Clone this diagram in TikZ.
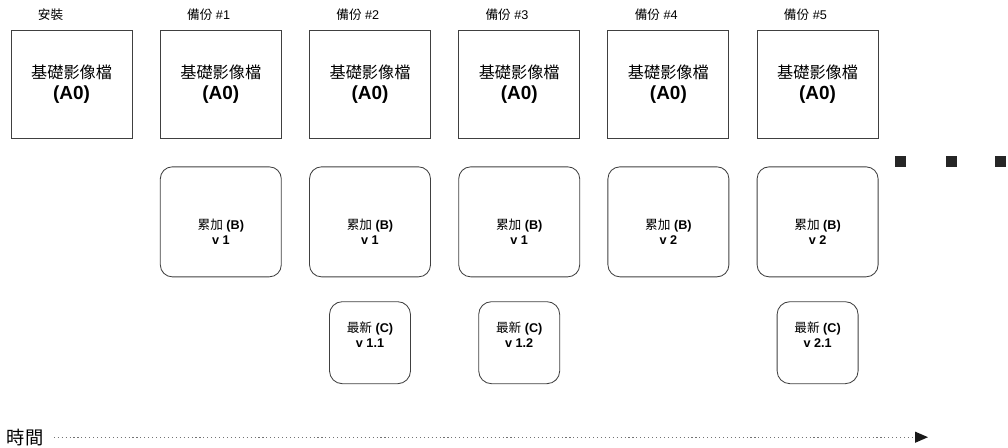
\documentclass[tikz,border=0pt]{standalone}
\usepackage{fontspec}
\setmainfont{Liberation Sans}
\newfontfamily\cjk{Noto Sans CJK TC}
\usetikzlibrary{arrows.meta,positioning}

\tikzset{
  fullbox/.style={draw=black!75, line width=0.6pt, minimum width=3.025cm,
    minimum height=2.7cm, inner sep=0pt, align=center,
    font=\fontsize{11.5}{14.5}\selectfont},
  incbox/.style={draw=black!75, line width=0.6pt, rounded corners=0.3cm,
    minimum width=3.025cm, minimum height=2.75cm, inner sep=0pt},
  newbox/.style={draw=black!75, line width=0.6pt, rounded corners=0.32cm,
    minimum width=2.025cm, minimum height=2.05cm, inner sep=0pt},
  boxtext/.style={align=center, inner sep=0pt, font=\fontsize{9}{10.7}\selectfont},
  toplabel/.style={anchor=west, inner sep=0pt, font=\fontsize{9}{10}\selectfont},
  etcdot/.style={fill=black!85, minimum size=0.275cm, inner sep=0pt},
  timeline/.style={dotted, line width=0.8pt, black!55,
    -{Triangle[length=0.32cm,width=0.27cm,color=black!90]}}
}
\newcommand{\fullimg}{{\cjk 基礎影像檔}\\{\fontsize{13.5}{14.5}\selectfont\bfseries (A0)}}

\begin{document}
\begin{tikzpicture}
  \useasboundingbox (0,0) rectangle (25.2,-11.2);

  % full images
  \node[fullbox] (a0) at (1.79,-2.1) {\fullimg};
  \node[fullbox] (a1) at (5.52,-2.1) {\fullimg};
  \node[fullbox] (a2) at (9.25,-2.1) {\fullimg};
  \node[fullbox] (a3) at (12.98,-2.1) {\fullimg};
  \node[fullbox] (a4) at (16.71,-2.1) {\fullimg};
  \node[fullbox] (a5) at (20.44,-2.1) {\fullimg};

  \node[toplabel] (l0) at ([xshift=0.675cm,yshift=0.375cm]a0.north west) {\cjk 安裝};
  \node[toplabel] (l1) at ([xshift=0.675cm,yshift=0.375cm]a1.north west) {{\cjk 備份} \#1};
  \node[toplabel] (l2) at ([xshift=0.675cm,yshift=0.375cm]a2.north west) {{\cjk 備份} \#2};
  \node[toplabel] (l3) at ([xshift=0.675cm,yshift=0.375cm]a3.north west) {{\cjk 備份} \#3};
  \node[toplabel] (l4) at ([xshift=0.675cm,yshift=0.375cm]a4.north west) {{\cjk 備份} \#4};
  \node[toplabel] (l5) at ([xshift=0.675cm,yshift=0.375cm]a5.north west) {{\cjk 備份} \#5};

  % cumulative
  \node[incbox, below=0.7cm of a1] (b1) {};
  \node[incbox, below=0.7cm of a2] (b2) {};
  \node[incbox, below=0.7cm of a3] (b3) {};
  \node[incbox, below=0.7cm of a4] (b4) {};
  \node[incbox, below=0.7cm of a5] (b5) {};
  \node[boxtext] (b1t) at ([yshift=-0.24cm]b1.center) {{\cjk 累加} \textbf{(B)}\\\textbf{v 1}};
  \node[boxtext] (b2t) at ([yshift=-0.24cm]b2.center) {{\cjk 累加} \textbf{(B)}\\\textbf{v 1}};
  \node[boxtext] (b3t) at ([yshift=-0.24cm]b3.center) {{\cjk 累加} \textbf{(B)}\\\textbf{v 1}};
  \node[boxtext] (b4t) at ([yshift=-0.24cm]b4.center) {{\cjk 累加} \textbf{(B)}\\\textbf{v 2}};
  \node[boxtext] (b5t) at ([yshift=-0.24cm]b5.center) {{\cjk 累加} \textbf{(B)}\\\textbf{v 2}};

  % newest
  \node[newbox, below=0.6cm of b2] (c2) {};
  \node[newbox, below=0.6cm of b3] (c3) {};
  \node[newbox, below=0.6cm of b5] (c5) {};
  \node[boxtext] (c2t) at ([yshift=0.21cm]c2.center) {{\cjk 最新} \textbf{(C)}\\\textbf{v 1.1}};
  \node[boxtext] (c3t) at ([yshift=0.21cm]c3.center) {{\cjk 最新} \textbf{(C)}\\\textbf{v 1.2}};
  \node[boxtext] (c5t) at ([yshift=0.21cm]c5.center) {{\cjk 最新} \textbf{(C)}\\\textbf{v 2.1}};

  \node[etcdot] (d1) at (22.51,-4.04) {};
  \node[etcdot] (d2) at (23.78,-4.04) {};
  \node[etcdot] (d3) at (25.01,-4.04) {};

  % time axis
  \node[inner sep=0pt, font=\fontsize{13}{15}\selectfont] (time) at (0.63,-10.93) {\cjk 時間};
  \coordinate (tend) at (23.2,-10.93);
  \draw[timeline] ([xshift=0.25cm]time.east) -- (tend);
\end{tikzpicture}
\end{document}
